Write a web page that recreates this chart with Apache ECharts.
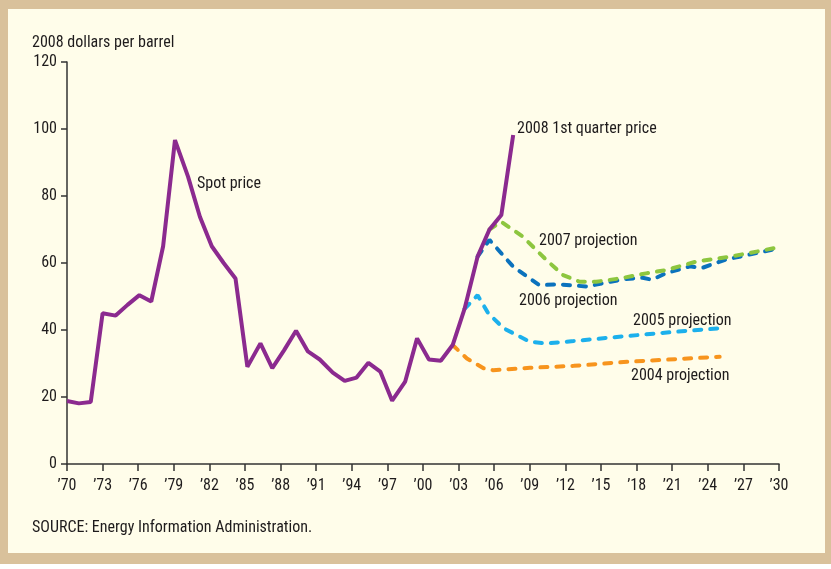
<!DOCTYPE html>
<html>
<head>
<meta charset="utf-8">
<script src="https://cdn.jsdelivr.net/npm/echarts@6/dist/echarts.min.js"></script>
<style>
  html, body { margin: 0; padding: 0; background: #fff; }
  #oil-chart { width: 831px; height: 569px; }
</style>
</head>
<body>
<div id="oil-chart"></div>
<script>
// spot price, 2008 dollars per barrel (x positions as plotted)
var spotYears = [1970, 1971, 1972, 1973, 1974.1, 1975.1, 1976.1, 1977.1, 1978.1, 1979.1,
  1980.2, 1981.2, 1982.2, 1983.2, 1984.2, 1985.2, 1986.3, 1987.3, 1988.3, 1989.3,
  1990.3, 1991.3, 1992.4, 1993.4, 1994.4, 1995.4, 1996.4, 1997.4, 1998.5, 1999.5,
  2000.5, 2001.5, 2002.5, 2003.5, 2004.6, 2005.6, 2006.6, 2007.6];
var spotPrice = [18.8, 18.1, 18.5, 45, 44.3, 47.5, 50.4, 48.5, 65, 96.7,
  85.8, 73.8, 65, 60, 55.4, 29, 36, 28.6, 34, 39.8,
  33.6, 31.2, 27.3, 24.8, 25.8, 30.2, 27.6, 18.9, 24.6, 37.5,
  31.2, 30.8, 35.5, 46.3, 61.9, 70, 74.3, 98.2];

var proj2007Years = [2005.6, 2006.6, 2008.4, 2010.4, 2011.8, 2013.2, 2014.6, 2016.6, 2018.8, 2020.5, 2023, 2025.9, 2030];
var proj2007 = [70, 72.3, 67.9, 60.9, 56.4, 54.4, 54.4, 55.4, 56.9, 57.9, 60.4, 61.9, 64.7];

var proj2006Years = [2004.6, 2005.6, 2007.6, 2009.8, 2011.5, 2013.8, 2015.5, 2017, 2018.5, 2019.3, 2020.5, 2022.5, 2023.5, 2025.5, 2030];
var proj2006 = [61.9, 66.9, 58.9, 53.4, 53.6, 53.0, 54.2, 55.2, 55.6, 55.0, 57.0, 59.0, 58.5, 61.0, 64.4];

var proj2005Years = [2003.5, 2004.6, 2005.5, 2006.8, 2009, 2010.4, 2012.7, 2017.2, 2021.4, 2025];
var proj2005 = [46.3, 50.4, 45, 40.5, 36.5, 36, 36.7, 38.2, 39.5, 40.5];

var proj2004Years = [2002.5, 2003.7, 2005.1, 2005.9, 2009, 2012.7, 2017.2, 2025];
var proj2004 = [35.5, 31.5, 28.6, 28, 28.7, 29.3, 30.5, 32];

var yTicks = [0, 20, 40, 60, 80, 100, 120];

function pairs(xs, ys) {
  return xs.map(function (x, i) { return [x, ys[i]]; });
}

var font = '"Roboto Condensed", "DejaVu Sans Condensed", sans-serif';
var txtColor = '#1e1b1c';

function dashed(name, color, xs, ys) {
  return {
    name: name,
    type: 'line',
    data: pairs(xs, ys),
    symbol: 'none',
    z: 2,
    lineStyle: { color: color, width: 4, type: [7, 9], cap: 'round' }
  };
}

function note(text, x, y) {
  return {
    type: 'text', left: x, top: y,
    style: { text: text, fill: txtColor, font: '16px ' + font }
  };
}

var chart = echarts.init(document.getElementById('oil-chart'));
var option = {
  backgroundColor: '#d9c19b',
  animation: false,
  grid: { left: 67, right: 52, top: 62, bottom: 105, containLabel: false },
  graphic: [
    { type: 'rect', z: -10, shape: { x: 8, y: 9, width: 817, height: 544 }, style: { fill: '#fffdea' } },
    { type: 'rect', z: -10, shape: { x: 0, y: 564, width: 831, height: 5 }, style: { fill: '#ffffff' } },
    note('2008 dollars per barrel', 32, 35),
    note('SOURCE: Energy Information Administration.', 32, 520),
    note('Spot price', 197, 176),
    note('2008 1st quarter price', 517, 121),
    note('2007 projection', 539, 233),
    note('2006 projection', 519, 293),
    note('2005 projection', 633, 313),
    note('2004 projection', 631, 368)
  ],
  xAxis: {
    type: 'value',
    min: 1970,
    max: 2030,
    interval: 3,
    axisLine: { show: true, lineStyle: { color: '#333', width: 1.5 } },
    axisTick: { show: true, length: 7, lineStyle: { color: '#333', width: 1.5 } },
    splitLine: { show: false },
    axisLabel: {
      color: txtColor, fontSize: 16, fontFamily: font, margin: 14,
      formatter: function (v) { return '\u2019' + String(v).slice(2); }
    }
  },
  yAxis: {
    type: 'value',
    min: yTicks[0],
    max: yTicks[yTicks.length - 1],
    interval: 20,
    axisLine: { show: true, lineStyle: { color: '#333', width: 1.5 } },
    axisTick: { show: true, length: 6, lineStyle: { color: '#333', width: 1.5 } },
    splitLine: { show: false },
    axisLabel: { color: txtColor, fontSize: 16, fontFamily: font, margin: 10 }
  },
  series: [
    dashed('2004 projection', '#f7941d', proj2004Years, proj2004),
    dashed('2005 projection', '#1cb0ec', proj2005Years, proj2005),
    dashed('2006 projection', '#0b72bd', proj2006Years, proj2006),
    dashed('2007 projection', '#8dc63f', proj2007Years, proj2007),
    {
      name: 'Spot price',
      type: 'line',
      data: pairs(spotYears, spotPrice),
      symbol: 'none',
      z: 3,
      lineStyle: { color: '#8b2a8f', width: 4 }
    }
  ]
};
chart.setOption(option);
</script>
</body>
</html>
